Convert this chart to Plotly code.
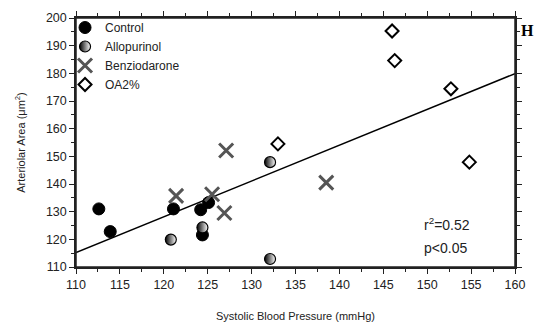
import plotly.graph_objects as go

control_x = [112.6, 113.9, 121.1, 124.2, 124.4, 125.1]
control_y = [131.0, 122.8, 131.0, 130.7, 121.6, 133.3]

allo_x = [120.8, 124.4, 132.1, 132.1]
allo_y = [119.9, 124.3, 147.9, 112.9]

benz_x = [121.4, 125.5, 126.9, 127.1, 138.5]
benz_y = [135.7, 136.3, 129.5, 152.1, 140.5]

oa_x = [133.0, 146.0, 146.3, 152.7, 154.8]
oa_y = [154.5, 195.3, 184.6, 174.4, 147.9]

fit_x = [110, 160]
fit_y = [115.2, 179.9]

x_ticks = [110, 115, 120, 125, 130, 135, 140, 145, 150, 155, 160]
y_ticks = [110, 120, 130, 140, 150, 160, 170, 180, 190, 200]

fig = go.Figure()
fig.add_trace(go.Scatter(x=fit_x, y=fit_y, mode="lines", line=dict(color="black", width=1.5),
                         showlegend=False, hoverinfo="skip"))
fig.add_trace(go.Scatter(x=control_x, y=control_y, mode="markers", name="Control",
                         marker=dict(symbol="circle", size=12, color="black",
                                     line=dict(color="black", width=1))))
fig.add_trace(go.Scatter(x=allo_x, y=allo_y, mode="markers", name="Allopurinol",
                         marker=dict(symbol="circle", size=11, color="black",
                                     gradient=dict(type="horizontal", color="white"),
                                     line=dict(color="black", width=1.2))))
fig.add_trace(go.Scatter(x=benz_x, y=benz_y, mode="markers", name="Benziodarone",
                         marker=dict(symbol="x-thin", size=14, color="#555555",
                                     line=dict(color="#555555", width=3))))
fig.add_trace(go.Scatter(x=oa_x, y=oa_y, mode="markers", name="OA2%",
                         marker=dict(symbol="diamond-open", size=10, color="black",
                                     line=dict(color="black", width=2))))

fig.add_annotation(x=149.4, y=125.5, xref="x", yref="y", text="r<sup>2</sup>=0.52",
                   showarrow=False, xanchor="left", yanchor="middle",
                   font=dict(size=14, color="#222"))
fig.add_annotation(x=149.4, y=117, xref="x", yref="y", text="p<0.05",
                   showarrow=False, xanchor="left", yanchor="middle",
                   font=dict(size=14, color="#222"))
fig.add_annotation(x=1.008, y=0.99, xref="paper", yref="paper", text="<b>H</b>",
                   showarrow=False, xanchor="left", yanchor="top",
                   font=dict(size=16, color="black", family="Liberation Serif"))

# plot frame
fig.add_shape(type="rect", xref="paper", yref="paper", x0=0, y0=0, x1=1, y1=1,
              line=dict(color="#222", width=1.5), layer="above")

axis_common = dict(showline=True, linecolor="#222", linewidth=1.5, mirror="allticks",
                   ticks="outside", ticklen=5, tickwidth=1.2, tickcolor="#222",
                   automargin=False,
                   showgrid=False, zeroline=False, tickfont=dict(size=12.5, color="#222"))

fig.update_xaxes(range=[110, 160], tickvals=x_ticks,
                 minor=dict(ticks="outside", dtick=2.5, ticklen=3, tickcolor="#222"),
                 title=dict(text="Systolic Blood Pressure (mmHg)", font=dict(size=11, color="#222"),
                            standoff=22),
                 **axis_common)
fig.update_yaxes(range=[110, 200], tickvals=y_ticks,
                 minor=dict(ticks="outside", dtick=5, ticklen=3, tickcolor="#222"),
                 title=dict(text="Arteriolar Area (μm<sup>2</sup>)", font=dict(size=11, color="#222"),
                            standoff=18),
                 **axis_common)

fig.update_layout(
    width=536, height=320,
    margin=dict(l=68, r=29, t=10, b=61, autoexpand=False),
    paper_bgcolor="white", plot_bgcolor="white",
    font=dict(family="Liberation Sans, Arial, sans-serif", color="#222"),
    legend=dict(x=-0.025, y=1.02, xanchor="left", yanchor="top", bgcolor="rgba(0,0,0,0)",
                font=dict(size=12), tracegroupgap=0, itemwidth=30),
)

fig.write_html("out.html")
